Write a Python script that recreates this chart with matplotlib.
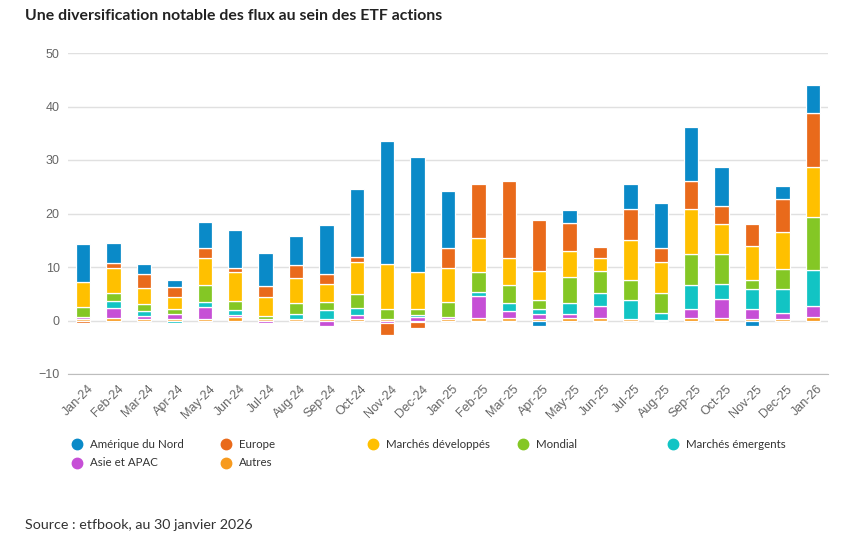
import numpy as np
import matplotlib.pyplot as plt
import matplotlib.transforms as mtransforms
from matplotlib.lines import Line2D

## --- Data ---
months = ["Jan-24", "Feb-24", "Mar-24", "Apr-24", "May-24", "Jun-24", "Jul-24",
          "Aug-24", "Sep-24", "Oct-24", "Nov-24", "Dec-24", "Jan-25", "Feb-25",
          "Mar-25", "Apr-25", "May-25", "Jun-25", "Jul-25", "Aug-25", "Sep-25",
          "Oct-25", "Nov-25", "Dec-25", "Jan-26"]

amerique_nord = [7.1, 3.7, 1.8, 1.3, 5.0, 7.0, 6.3, 5.4, 9.1, 12.7, 22.9, 21.4, 10.6,
                 -0.2, -0.3, -1.1, 2.4, -0.2, 4.7, 8.3, 10.1, 7.3, -1.0, 2.4, 5.3]
europe = [-0.4, 0.9, 2.6, 1.9, 1.9, 0.8, 2.0, 2.5, 1.9, 0.9, -2.3, -1.1, 3.8,
          10.1, 14.5, 9.5, 5.4, 2.2, 5.9, 2.6, 5.3, 3.4, 4.2, 6.2, 10.1]
dev = [4.6, 4.7, 3.0, 2.2, 5.0, 5.5, 3.5, 4.6, 3.4, 6.0, 8.4, 6.9, 6.3,
       6.5, 5.0, 5.4, 4.7, 2.4, 7.5, 5.8, 8.4, 5.6, 6.3, 7.0, 9.4]
mondial = [2.0, 1.6, 1.3, 0.9, 3.1, 1.7, 0.7, 2.0, 1.4, 2.6, 2.0, 1.1, 2.9,
           3.7, 3.4, 1.8, 5.0, 4.1, 3.7, 3.8, 5.8, 5.6, 1.8, 3.7, 9.9]
emergents = [0.0, 1.2, 0.9, -0.4, 0.9, 0.9, 0.0, 1.1, 1.8, 1.3, 0.0, 0.4, 0.0,
             0.7, 1.4, 0.8, 2.0, 2.4, 3.6, 1.3, 4.4, 2.8, 3.6, 4.5, 6.6]
asie = [0.3, 2.0, 0.7, 1.0, 2.4, 0.4, -0.5, 0.0, -1.1, 0.9, -0.5, 0.7, 0.3,
        4.2, 1.4, 1.1, 0.8, 2.2, 0.0, 0.0, 1.8, 3.6, 1.9, 1.1, 2.2]
autres = [0.3, 0.4, 0.2, 0.2, 0.2, 0.6, 0.2, 0.2, 0.2, 0.2, 0.2, -0.3, 0.3,
          0.4, 0.4, 0.2, 0.4, 0.5, 0.2, 0.1, 0.4, 0.4, 0.3, 0.3, 0.6]

names = ["Amérique du Nord", "Europe", "Marchés développés", "Mondial",
         "Marchés émergents", "Asie et APAC", "Autres"]
series = [amerique_nord, europe, dev, mondial, emergents, asie, autres]
colors = ["#0a8ac8", "#e96a1b", "#ffc000", "#84c725", "#12c4c4", "#c64fd6", "#f79a1e"]

## --- Figure ---
fig = plt.figure(figsize=(8.56, 5.39), dpi=100)
ax = fig.add_axes([68 / 856, 1 - 374 / 539, 760 / 856, 321 / 539])

x = np.arange(len(months))
pos = np.zeros(len(months))
neg = np.zeros(len(months))
# first series sits on top, so stack from the last one
for vals, col in zip(series[::-1], colors[::-1]):
    v = np.array(vals)
    base = np.where(v >= 0, pos, neg)
    ax.bar(x, v, bottom=base, width=0.47, color=col, edgecolor="white",
           linewidth=0.9, zorder=3)
    pos = pos + np.where(v >= 0, v, 0)
    neg = neg + np.where(v < 0, v, 0)

ax.set_xlim(-0.5, len(months) - 0.5)
ax.set_ylim(-10, 50)
ax.set_yticks(range(-10, 51, 10))
ax.grid(axis="y", color="#e0e0e0", linewidth=1, zorder=0)
for s in ["top", "right", "left"]:
    ax.spines[s].set_visible(False)
ax.spines["bottom"].set_color("#bdbdbd")
ax.tick_params(axis="both", length=0, colors="#666666", labelsize=9)
ax.tick_params(axis="y", pad=6)
for lab in ax.get_yticklabels():
    lab.set_fontfamily("Liberation Sans")

ax.set_xticks(x)
ax.set_xticklabels(months, rotation=45, ha="right", rotation_mode="anchor",
                   fontfamily="Liberation Sans", fontsize=9, color="#666666")
offset = mtransforms.ScaledTranslation(4 / 100, -4 / 100, fig.dpi_scale_trans)
for lab in ax.get_xticklabels():
    lab.set_transform(lab.get_transform() + offset)

## --- Title, legend, source ---
fig.text(25 / 856, 1 - 16 / 539, "Une diversification notable des flux au sein des ETF actions",
         fontsize=11.4, fontweight="bold", color="#222222", va="center", fontfamily="Lato")

leg_pos = [(77, 444), (226, 444), (373, 444), (523, 444), (673, 444), (77, 463), (226, 463)]
for (px, py), name, col in zip(leg_pos, names, colors):
    fig.add_artist(Line2D([px / 856], [1 - py / 539], marker="o", markersize=7.5,
                          color=col, linestyle="none", transform=fig.transFigure))
    fig.text((px + 13) / 856, 1 - py / 539, name, fontsize=8.3, color="#333333",
             va="center", fontfamily="Lato")

fig.text(25 / 856, 1 - 525 / 539, "Source : etfbook, au 30 janvier 2026",
         fontsize=10.3, color="#333333", va="center", fontfamily="Lato")

fig.savefig("out.png", dpi=100)
